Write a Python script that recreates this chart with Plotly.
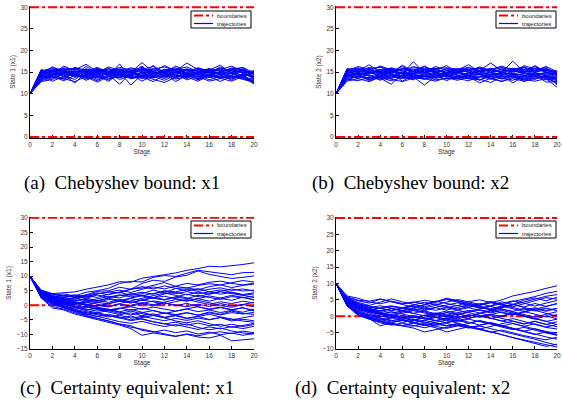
import plotly.graph_objects as go

W, H = 562, 409

stages = list(range(21))
bound_x = [0, 20]
upper_bound = [30, 30]
lower_bound = [0, 0]

traj_a = [
    [10,15.3,15.8,14.9,15.2,14.1,15.6,14.8,15.0,14.3,15.7,14.6,15.1,14.9,15.5,14.2,15.0,14.7,15.3,14.8,13.9],
    [10,13.2,14.1,13.6,14.8,13.4,14.0,13.2,14.5,13.8,14.2,13.7,14.6,13.9,14.1,13.5,14.3,13.8,14.0,13.6,12.4],
    [10,14.5,16.2,15.1,14.3,15.8,14.6,15.9,14.1,15.3,16.1,14.8,15.4,16.0,14.7,15.6,14.9,16.2,15.0,15.5,14.6],
    [10,12.8,13.3,14.6,13.9,14.2,13.0,14.4,12.2,14.8,13.5,14.0,13.1,14.3,13.8,14.5,13.2,14.1,13.6,14.2,12.9],
    [10,15.0,14.2,16.4,15.3,14.7,15.9,14.5,15.6,14.9,17.2,15.0,14.6,15.8,14.4,15.2,14.8,15.7,14.9,15.3,13.5],
    [10,14.1,15.4,13.8,16.0,14.5,13.6,15.1,14.0,15.5,13.9,16.6,14.3,15.0,13.7,14.8,15.9,14.2,15.4,14.0,15.2],
    [10,13.6,14.8,14.1,13.3,15.0,14.4,13.5,14.9,14.0,13.6,14.7,13.9,15.1,14.5,13.8,14.6,15.0,13.7,14.4,12.6],
    [10,15.5,15.0,15.7,15.5,16.8,15.2,15.8,15.1,16.0,15.4,15.7,16.2,15.3,17.1,15.6,15.2,15.9,15.4,16.1,14.8],
    [10,14.8,13.9,15.2,14.6,13.8,15.3,14.1,16.9,13.4,14.8,15.2,14.0,14.9,15.3,14.6,13.9,15.1,14.7,13.8,13.3],
    [10,13.9,15.6,14.4,12.5,14.9,13.8,14.7,13.3,14.2,15.0,13.6,14.8,12.8,14.3,15.1,13.7,14.5,13.1,14.6,13.7],
    [10,15.2,14.6,15.5,15.9,15.1,16.1,14.9,15.8,15.0,15.6,16.3,14.9,16.4,15.2,15.9,15.3,14.8,16.0,15.5,14.1],
    [10,14.3,12.9,14.0,14.5,13.1,14.2,12.9,14.6,13.7,14.1,13.4,12.6,13.8,14.4,13.3,14.0,12.8,14.2,13.5,13.0],
    [10,15.1,16.0,15.3,14.7,15.5,14.8,16.2,15.4,14.6,15.9,15.1,16.5,15.3,14.9,16.0,15.2,15.6,16.4,15.0,15.3],
    [10,14.6,14.9,13.2,15.1,14.3,15.5,14.0,14.8,15.2,13.9,14.6,15.0,14.2,13.5,14.8,14.1,13.7,14.9,14.3,12.2],
    [10,13.4,14.3,14.9,13.8,14.7,13.3,14.2,15.1,12.0,14.4,13.8,14.9,13.6,14.6,13.2,14.5,14.0,13.4,14.7,13.6],
    [10,15.4,15.3,16.0,15.6,15.0,15.7,15.2,16.1,15.5,14.9,15.8,15.3,15.6,16.2,15.1,15.7,15.3,15.8,16.0,14.4],
    [10,14.0,14.5,14.3,14.9,13.6,14.6,15.3,13.9,14.6,14.2,15.0,14.4,13.9,14.7,14.4,15.1,14.3,14.8,13.9,14.9],
    [10,14.9,15.1,14.6,16.1,15.4,14.3,15.6,14.7,15.8,15.1,14.5,15.7,15.0,15.8,14.7,15.5,16.6,14.6,15.3,13.2],
    [10,13.0,13.7,13.5,12.8,14.0,14.7,13.6,13.8,14.5,12.9,14.3,13.5,14.6,13.2,14.0,12.9,13.5,14.1,13.3,12.7],
    [10,15.6,14.4,15.0,14.4,16.3,14.9,14.4,15.3,14.7,16.4,14.2,15.5,14.4,15.6,15.3,14.4,15.1,15.6,14.9,15.0],
    [10,14.4,15.2,15.8,14.0,14.6,15.1,14.6,14.3,15.1,14.5,15.3,14.2,15.6,14.0,14.9,15.3,14.5,14.3,15.8,13.8],
    [10,13.7,14.0,13.0,14.2,13.9,12.7,14.0,14.4,13.5,13.9,12.8,14.3,13.4,13.9,12.9,14.2,13.6,12.9,14.0,12.5],
    [10,15.1,15.5,15.4,15.0,15.6,15.4,15.0,15.5,15.2,15.3,15.5,15.0,15.7,15.4,15.5,15.6,15.2,15.5,15.6,14.5],
    [10,14.2,13.6,14.7,14.1,15.2,14.0,14.9,13.7,14.4,14.7,14.1,13.8,14.5,14.9,13.9,14.4,14.9,14.0,14.4,14.0],
]

traj_b = [
    [10,15.5,16.0,14.9,15.6,15.2,16.3,15.0,15.8,14.7,15.9,15.1,15.3,15.9,15.0,15.6,15.2,16.0,15.4,15.7,14.7],
    [10,13.4,13.0,13.8,13.3,14.2,13.5,13.9,12.0,14.1,13.4,13.8,13.5,13.2,14.0,13.6,13.1,14.2,13.6,13.9,12.3],
    [10,14.8,15.3,16.7,14.9,15.4,14.6,17.4,14.8,15.7,14.6,15.5,15.0,14.8,15.9,14.7,15.6,15.0,16.5,15.1,14.2],
    [10,14.1,14.6,13.2,14.4,13.5,14.8,13.6,14.2,13.7,14.3,13.9,14.4,13.1,14.6,13.8,14.0,13.5,14.5,13.7,13.0],
    [10,15.2,14.5,15.6,16.2,15.1,15.6,15.3,16.4,15.2,14.9,15.6,16.1,15.4,17.1,15.3,15.5,16.2,15.2,16.3,15.1],
    [10,13.8,14.9,14.2,13.6,12.2,14.5,14.1,13.8,14.8,14.0,13.4,14.3,14.7,13.6,14.3,12.5,14.0,14.4,13.5,11.5],
    [10,15.7,15.1,15.5,15.0,16.0,15.2,15.7,15.0,15.5,16.5,15.0,15.7,15.2,15.6,15.0,17.5,15.1,15.8,15.4,14.6],
    [10,14.5,13.4,14.9,14.7,13.8,15.0,14.4,14.9,13.9,14.7,15.1,14.0,14.8,14.2,15.0,14.3,14.6,14.8,14.1,13.6],
    [10,13.1,14.2,13.5,14.6,14.0,13.7,14.6,13.4,14.4,13.0,14.2,13.7,14.5,13.3,14.1,13.9,13.2,14.4,12.7,12.8],
    [10,15.0,15.8,15.3,15.1,14.7,15.9,14.8,15.5,15.1,15.3,15.6,14.9,15.4,15.8,14.8,15.9,15.3,15.0,15.5,14.9],
    [10,14.3,14.7,12.9,14.1,14.9,12.9,14.3,14.0,13.8,14.9,14.4,13.4,13.9,14.5,14.4,14.8,12.8,13.6,14.2,13.4],
    [10,15.4,14.4,15.2,16.4,15.5,14.7,16.3,15.6,15.9,14.8,15.5,16.7,15.1,15.4,16.1,14.7,16.5,15.7,15.0,14.4],
    [10,13.6,13.8,14.4,13.1,14.3,14.1,13.2,14.6,13.5,14.2,13.6,14.1,13.4,12.6,13.9,14.5,13.7,13.3,14.3,12.1],
    [10,14.9,15.5,14.7,15.4,15.9,14.5,15.4,14.9,16.3,15.4,14.7,15.5,16.0,14.9,15.7,15.1,15.5,16.3,14.9,15.3],
    [10,14.0,14.1,13.7,14.0,13.6,14.2,13.9,13.3,14.1,14.5,13.9,14.2,13.8,14.1,13.4,14.0,14.1,13.9,14.0,13.2],
    [10,15.6,15.0,16.1,15.5,14.8,16.6,15.1,16.2,14.9,15.7,15.2,16.0,15.0,15.6,16.4,15.4,14.9,15.4,16.2,14.0],
    [10,14.6,14.3,15.0,14.2,15.3,14.0,15.1,14.4,15.0,14.1,14.8,14.6,15.2,14.3,14.9,14.5,15.2,14.6,14.8,13.8],
    [10,12.9,13.5,12.8,13.9,13.4,12.8,13.6,13.5,12.9,13.7,13.1,13.9,12.5,13.6,12.8,13.8,13.3,12.9,13.5,12.6],
    [10,15.3,16.3,15.6,14.6,15.7,15.3,14.6,15.4,15.6,15.0,15.8,15.2,16.2,15.3,15.1,15.7,16.1,15.0,15.8,15.0],
    [10,14.2,14.7,14.6,15.0,14.4,14.8,14.5,14.1,14.6,14.4,15.0,14.3,14.6,15.0,14.5,14.2,14.7,14.4,14.6,14.3],
    [10,13.5,14.0,13.3,13.7,13.0,13.8,13.4,14.0,13.2,13.6,13.5,13.0,14.0,13.5,12.9,13.5,12.9,14.0,13.2,13.9],
    [10,15.8,15.6,15.9,16.1,15.5,15.8,16.0,15.7,15.8,16.0,15.7,15.5,15.8,15.6,16.0,15.8,15.6,15.9,15.7,14.8],
    [10,14.4,15.0,14.0,14.8,14.6,13.9,14.7,15.1,14.3,14.9,14.2,14.8,14.4,13.9,14.8,14.6,14.2,14.9,14.4,13.7],
    [10,14.7,13.9,15.3,13.7,14.9,15.0,13.8,14.7,15.4,13.8,14.9,15.3,14.5,14.8,14.2,15.3,14.8,14.2,15.0,14.5],
]

traj_c = [
    [10,5.2,4.0,4.3,4.6,5.5,6.2,7.0,8.1,7.9,9.3,9.8,10.5,11.1,12.0,12.6,13.4,13.2,13.5,14.0,14.6],
    [10,4.8,3.5,3.9,3.2,4.5,5.0,5.8,7.5,8.2,8.0,9.6,10.2,9.9,11.0,12.0,11.5,11.0,10.5,11.2,11.3],
    [10,4.5,2.8,3.4,2.9,3.6,4.8,5.0,6.2,5.5,7.5,8.6,8.2,9.7,10.3,11.8,10.6,9.8,9.2,9.6,10.1],
    [10,5.0,3.9,3.0,3.6,2.8,3.9,4.6,4.2,5.6,5.9,6.9,7.8,6.5,5.9,6.8,7.4,7.0,7.8,8.5,8.0],
    [10,4.2,3.2,2.5,2.0,3.3,2.7,3.8,4.5,3.4,4.0,5.2,4.3,5.8,6.0,5.3,6.4,7.0,6.1,6.8,7.3],
    [10,3.9,2.4,1.8,2.7,1.5,2.2,3.0,2.5,3.8,4.5,3.8,5.0,4.6,5.5,4.8,5.5,6.0,5.1,5.6,4.9],
    [10,4.6,3.0,2.2,1.6,2.4,3.5,2.8,3.6,2.9,3.5,2.6,3.9,4.4,3.6,4.5,3.8,4.6,4.0,3.4,3.9],
    [10,3.5,1.9,1.2,0.6,1.5,0.9,2.0,1.6,2.5,3.2,2.4,1.8,2.8,2.3,3.4,2.6,2.0,3.0,2.6,3.2],
    [10,4.1,2.6,1.5,0.8,0.2,1.0,0.5,1.4,2.3,1.6,2.6,3.1,2.2,1.5,2.3,1.4,2.4,1.7,2.8,1.8],
    [10,3.2,1.4,0.5,1.2,0.4,-0.3,0.6,1.5,0.8,1.8,1.2,0.4,1.3,2.0,1.1,0.3,1.2,0.6,1.4,0.8],
    [10,3.7,2.0,0.8,-0.2,-0.9,0.0,-0.6,0.4,-0.3,0.5,-0.2,0.8,0.1,-0.5,0.4,-0.4,0.6,-0.2,0.3,-0.5],
    [10,2.9,1.0,-0.3,-1.0,-0.4,-1.2,-2.0,-1.1,-0.5,-1.4,-0.6,-1.3,-2.0,-1.2,-0.5,-1.5,-0.8,-1.6,-0.9,-1.8],
    [10,3.4,1.6,0.3,-0.8,-1.8,-2.6,-1.8,-2.8,-2.0,-2.9,-3.5,-2.6,-3.2,-2.5,-3.4,-2.6,-3.3,-2.5,-3.0,-2.4],
    [10,2.6,0.2,-0.9,-1.9,-2.5,-3.3,-4.0,-3.4,-4.4,-3.8,-4.6,-5.3,-4.5,-5.2,-4.4,-5.0,-4.2,-5.0,-4.3,-3.6],
    [10,3.0,0.5,-0.5,-1.5,-2.9,-3.8,-4.8,-5.6,-6.2,-5.5,-6.5,-7.3,-6.6,-7.5,-8.3,-7.4,-8.1,-7.3,-8.0,-7.2],
    [10,2.7,-0.4,-1.3,-2.6,-3.4,-4.5,-5.3,-6.5,-7.5,-8.2,-9.0,-9.6,-10.6,-10.0,-10.9,-11.2,-10.3,-12.2,-11.8,-11.5],
    [10,3.3,0.9,-0.9,-2.2,-3.8,-4.5,-5.5,-6.4,-7.0,-8.6,-9.2,-8.5,-9.4,-8.8,-9.9,-9.2,-10.1,-9.5,-10.3,-9.7],
    [10,3.6,1.3,-0.1,-1.4,-2.2,-3.0,-3.6,-4.3,-5.3,-4.6,-5.7,-6.4,-5.8,-6.8,-6.1,-7.0,-6.5,-7.6,-6.9,-6.2],
    [10,4.3,2.3,1.0,0.3,-0.6,-1.5,-2.3,-3.2,-2.6,-3.6,-2.9,-4.1,-3.4,-4.4,-3.8,-4.9,-4.2,-5.4,-4.8,-5.3],
    [10,4.0,1.8,0.6,-0.4,-1.3,-2.0,-1.5,-2.3,-3.3,-2.5,-1.8,-2.8,-2.1,-1.3,-2.2,-1.6,-2.5,-1.7,-2.4,-1.3],
    [10,3.1,1.1,0.0,0.5,1.0,1.7,1.0,2.0,1.2,0.6,1.5,0.9,-0.2,0.7,-0.5,-1.3,-0.6,-1.5,-0.8,-2.0],
    [10,4.4,3.0,2.1,1.4,2.0,1.3,2.6,3.2,4.0,3.3,4.1,4.8,4.0,4.7,3.9,4.6,3.8,4.5,3.7,4.3],
    [10,3.8,2.2,1.6,2.4,3.0,3.9,4.5,5.2,4.4,5.5,6.3,5.6,6.6,7.5,7.0,7.9,8.3,7.5,7.0,7.6],
    [10,2.8,0.7,-0.6,-1.7,-3.0,-3.9,-3.1,-4.0,-5.0,-4.2,-3.5,-4.3,-5.4,-6.0,-5.3,-6.3,-7.2,-6.5,-7.3,-6.6],
    [10,3.5,1.5,0.4,-0.6,-1.6,-1.0,-1.8,-1.2,0.0,0.9,0.2,1.1,2.0,1.4,2.4,3.2,2.5,3.4,2.7,1.9],
    [10,4.7,3.3,2.6,3.3,2.5,1.6,2.4,1.5,0.8,1.9,2.7,2.0,3.0,3.8,3.0,4.0,4.8,5.6,4.9,5.2],
    [10,3.0,0.8,-0.7,-2.0,-3.2,-2.5,-3.5,-4.4,-3.7,-4.8,-5.6,-6.3,-7.1,-6.4,-7.6,-8.4,-7.8,-8.8,-9.5,-9.8],
    [10,3.9,2.5,1.7,0.9,0.0,-0.8,-1.6,-0.9,-1.7,-1.0,-1.8,-2.7,-3.5,-2.6,-3.4,-2.3,-3.1,-2.0,-2.8,-3.1],
    [10,4.9,3.8,3.2,2.7,3.4,4.3,3.6,4.5,5.4,6.4,5.6,6.7,5.8,4.9,5.7,4.6,5.3,4.4,3.5,2.6],
    [10,2.5,-0.9,-1.6,-3.0,-3.9,-5.0,-5.8,-6.8,-8.0,-10.3,-9.5,-10.0,-10.7,-9.8,-10.5,-9.6,-9.1,-9.7,-8.9,-9.4],
    [10,3.3,1.7,1.1,0.2,1.1,0.4,-0.4,0.6,1.5,2.4,3.3,4.2,3.4,2.5,1.6,0.8,0.0,-0.7,0.3,1.0],
    [10,4.2,2.9,2.0,1.1,0.1,-0.7,-1.3,-2.2,-1.4,-2.5,-3.4,-4.3,-3.6,-4.6,-3.9,-3.1,-4.0,-4.8,-5.4,-5.8],
]

traj_d = [
    [10,6.2,5.5,4.4,3.8,4.6,3.9,4.2,4.9,4.3,5.5,4.7,4.0,3.3,4.1,5.0,6.2,6.8,7.6,8.5,9.3],
    [10,5.8,4.7,4.0,5.2,4.3,3.6,2.8,3.5,4.6,3.9,3.2,4.5,5.0,4.2,3.4,4.5,5.2,6.0,7.0,7.6],
    [10,5.5,3.9,2.8,2.3,3.0,2.4,3.1,2.0,2.7,3.4,4.1,3.3,2.5,3.2,4.4,3.6,4.9,5.6,4.7,5.8],
    [10,5.1,3.4,2.2,1.5,2.3,1.6,0.9,1.7,2.6,1.9,2.7,3.5,2.8,2.0,2.9,3.7,2.8,3.9,3.0,3.8],
    [10,4.8,2.9,1.7,0.8,0.2,0.9,1.7,1.0,0.3,1.1,0.4,1.2,2.0,1.3,2.2,1.5,2.4,1.6,2.5,1.7],
    [10,4.4,2.3,1.0,0.1,-0.6,0.2,-0.5,0.3,1.0,0.4,-0.4,0.5,-0.2,0.6,-0.1,0.8,0.0,-0.9,0.1,-0.8],
    [10,3.9,1.5,0.2,-0.7,-1.4,-0.6,-1.3,-0.5,-1.2,-2.0,-1.3,-2.1,-1.4,-2.3,-3.0,-2.2,-3.1,-2.3,-3.3,-2.5],
    [10,3.4,0.8,-0.5,-1.4,-2.2,-2.8,-2.1,-2.9,-2.3,-3.0,-2.4,-3.4,-4.1,-4.9,-4.2,-5.1,-5.9,-6.6,-7.2,-6.4],
    [10,3.1,0.3,-0.8,-2.0,-2.7,-2.1,-2.8,-3.5,-2.8,-2.2,-2.9,-3.6,-3.0,-3.8,-4.5,-5.3,-6.2,-7.0,-8.0,-8.8],
    [10,4.6,2.6,1.9,2.6,3.2,2.6,1.9,2.5,1.8,2.6,3.3,2.7,3.5,4.2,3.4,2.7,1.9,2.6,1.8,2.4],
    [10,5.3,3.8,3.1,2.4,1.7,2.4,3.2,2.5,3.3,2.6,1.9,2.6,1.8,1.0,1.8,0.9,0.1,-0.8,-1.6,-0.9],
    [10,4.1,2.0,1.3,0.6,1.4,0.7,0.0,-0.8,-0.1,-0.9,-1.6,-0.9,-1.6,-2.4,-3.3,-4.1,-3.4,-4.3,-5.1,-5.8],
    [10,3.7,1.2,-0.1,-1.0,-1.8,-1.1,-1.9,-2.6,-1.9,-1.1,-0.4,0.4,-0.3,0.5,1.3,0.5,1.4,2.3,1.5,2.4],
    [10,5.0,3.1,2.0,1.2,0.5,-0.2,-1.0,-1.7,-2.5,-1.8,-1.0,-1.8,-2.7,-1.9,-2.8,-3.7,-4.6,-5.4,-6.3,-7.0],
    [10,4.5,2.5,1.5,0.7,-0.1,-0.9,-1.7,-2.6,-3.5,-4.8,-4.0,-3.2,-3.9,-3.1,-2.3,-1.5,-2.4,-1.6,-2.5,-1.7],
    [10,5.6,4.2,3.3,4.3,5.3,4.4,3.6,2.9,3.8,3.0,2.2,3.0,3.9,3.0,2.2,1.4,0.5,-0.3,0.6,1.4],
    [10,3.6,1.0,-0.6,-1.5,-2.5,-2.9,-3.0,-2.2,-3.1,-3.7,-3.0,-2.2,-1.3,-2.1,-2.9,-3.8,-4.7,-5.6,-4.8,-5.0],
    [10,4.3,2.2,1.2,1.8,1.0,1.6,0.8,0.1,0.8,1.6,0.8,0.0,0.8,1.7,2.6,3.5,4.4,5.3,6.1,6.6],
    [10,4.9,3.0,1.8,0.9,0.1,-0.6,0.1,-0.6,-1.4,-0.7,0.1,-0.7,0.2,-0.6,-1.5,-0.7,-1.6,-2.5,-3.4,-3.9],
    [10,3.3,0.5,-0.9,-1.7,-2.4,-3.0,-3.6,-4.8,-4.1,-3.4,-2.7,-3.5,-2.8,-2.1,-2.9,-3.8,-4.6,-3.8,-4.7,-5.5],
    [10,5.4,3.6,2.6,3.2,2.5,1.8,2.6,3.4,4.2,5.1,4.3,3.5,2.7,1.9,1.1,0.3,1.2,2.1,3.0,3.9],
    [10,4.0,1.8,0.6,-0.2,0.5,1.3,2.0,1.3,0.5,-0.2,0.6,1.4,2.2,3.0,3.9,4.7,4.0,3.1,4.0,4.8],
    [10,4.7,2.8,1.9,1.1,0.4,-0.4,-1.1,-0.3,0.4,1.1,1.8,1.1,0.3,-0.5,-1.3,-2.1,-3.0,-3.9,-4.8,-5.8],
    [10,3.8,1.4,0.3,-0.5,-1.2,-1.9,-1.2,-2.0,-1.3,-0.5,-1.3,-0.6,0.1,-0.7,0.2,1.0,0.2,-0.6,-1.5,-2.6],
    [10,5.9,4.9,4.6,5.3,4.5,3.7,4.4,3.7,4.5,5.3,4.6,3.8,3.0,2.3,3.1,2.3,1.5,0.7,-0.2,0.5],
    [10,4.2,2.4,1.4,0.4,-0.4,-1.3,-2.0,-1.2,-2.1,-2.9,-2.2,-3.0,-3.9,-4.7,-5.6,-6.5,-7.2,-8.0,-8.6,-9.4],
    [10,5.2,3.3,2.4,1.6,2.4,1.6,2.4,1.6,0.8,0.0,-0.8,0.0,0.9,1.8,2.7,3.6,2.7,1.8,0.9,0.0],
    [10,3.5,0.9,-0.3,-1.2,-0.5,0.2,-0.5,0.3,-0.4,0.3,1.1,1.8,1.0,0.2,-0.6,-1.4,-2.3,-1.5,-2.5,-3.2],
    [10,4.6,2.7,1.6,2.5,1.7,2.6,3.4,4.3,3.5,4.3,5.1,4.4,3.6,4.5,3.7,2.9,3.8,4.8,5.7,5.2],
    [10,3.2,0.4,-0.7,-2.9,-2.0,-1.2,-2.0,-1.2,-0.4,-1.2,-2.1,-3.0,-3.9,-4.8,-5.7,-6.6,-7.5,-8.4,-9.2,-8.5],
]

y_titles = ["State 1 (x1)", "State 2 (x2)", "State 1 (x1)", "State 2 (x2)"]
x_title = "Stage"
y_ranges = [[-0.25, 30.3], [-0.25, 30.3], [-15, 30.3], [-10, 30.3]]
captions = ["(a)  Chebyshev bound: x1", "(b)  Chebyshev bound: x2",
            "(c)  Certainty equivalent: x1", "(d)  Certainty equivalent: x2"]
legend_labels = ["boundaries", "trajectories"]

# plot-area boxes in pixels: (left, right, top, bottom)
boxes = [(30, 254, 6, 138), (336, 557, 6, 138), (30, 254, 217, 349), (336, 557, 217, 349)]
caption_pos = [(122, 183), (410, 183), (127, 388), (402, 388)]
legend_boxes = [(191, 251, 11, 28), (496, 556, 11, 28), (191, 251, 221, 238), (496, 556, 221, 238)]

def px(x):
    return x / W

def py(y):
    return 1 - y / H

RED = "#ff0000"
BLUE = "#0000ff"
TICKFONT = dict(family="Liberation Sans, Arial, sans-serif", size=6.5, color="#333333")

fig = go.Figure()
all_traj = [traj_a, traj_b, traj_c, traj_d]
shapes = []
annotations = []
layout_axes = {}

for i in range(4):
    n = "" if i == 0 else str(i + 1)
    xa, ya = "x" + n, "y" + n
    for b in (upper_bound, lower_bound):
        fig.add_trace(go.Scatter(x=bound_x, y=b, mode="lines", xaxis=xa, yaxis=ya,
                                 line=dict(color=RED, width=2, dash="dashdot"),
                                 showlegend=False, hoverinfo="skip"))
    for tr in all_traj[i]:
        fig.add_trace(go.Scatter(x=stages, y=tr, mode="lines", xaxis=xa, yaxis=ya,
                                 line=dict(color=BLUE, width=1),
                                 showlegend=False, hoverinfo="skip"))
    l, r, t, b_ = boxes[i]
    common = dict(showline=True, linecolor="black", linewidth=1, mirror=False,
                  ticks="inside", ticklen=3, tickcolor="black", tickwidth=1,
                  showgrid=False, zeroline=False, tickfont=TICKFONT, automargin=False,
                  layer="below traces")
    layout_axes["xaxis" + n] = dict(domain=[px(l), px(r)], range=[0, 20], dtick=2, tick0=0,
                                    anchor=ya,
                                    title=dict(text=x_title, font=TICKFONT, standoff=2),
                                    **common)
    layout_axes["yaxis" + n] = dict(domain=[py(b_), py(t)], range=y_ranges[i], dtick=5,
                                    tick0=0, anchor=xa,
                                    title=dict(text=y_titles[i], font=TICKFONT, standoff=4),
                                    **common)
    cx, cy = caption_pos[i]
    annotations.append(dict(x=px(cx), y=py(cy), xref="paper", yref="paper", text=captions[i],
                            showarrow=False, xanchor="center", yanchor="middle",
                            font=dict(family="Liberation Serif, Times New Roman, serif",
                                      size=19, color="black")))
    lx0, lx1, ly0, ly1 = legend_boxes[i]
    shapes.append(dict(type="rect", xref="paper", yref="paper",
                       x0=px(lx0), x1=px(lx1), y0=py(ly1), y1=py(ly0),
                       line=dict(color="black", width=1), fillcolor="white", layer="above"))
    row_y = [ly0 + 4.5, ly0 + 12.5]
    row_style = [dict(color=RED, width=2, dash="dashdot"), dict(color=BLUE, width=1.2)]
    for k in range(2):
        shapes.append(dict(type="line", xref="paper", yref="paper",
                           x0=px(lx0 + 3), x1=px(lx0 + 22), y0=py(row_y[k]), y1=py(row_y[k]),
                           line=row_style[k], layer="above"))
        annotations.append(dict(x=px(lx0 + 24), y=py(row_y[k]), xref="paper", yref="paper",
                                text=legend_labels[k], showarrow=False, xanchor="left",
                                yanchor="middle",
                                font=dict(family="Liberation Sans, Arial, sans-serif",
                                          size=6, color="#222222")))

fig.update_layout(width=W, height=H, margin=dict(l=0, r=0, t=0, b=0),
                  paper_bgcolor="white", plot_bgcolor="white", showlegend=False,
                  shapes=shapes, annotations=annotations, **layout_axes)

fig.write_html("out.html", config={"displayModeBar": False},
               post_script="document.body.style.margin='0';")
